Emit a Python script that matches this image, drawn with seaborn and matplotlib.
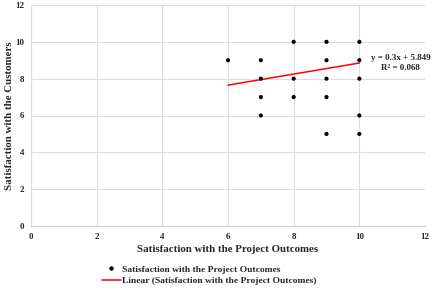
import numpy as np
import pandas as pd
import seaborn as sns
import matplotlib.pyplot as plt
from matplotlib.lines import Line2D

# survey answers (unique points visible in the chart)
outcomes = [6, 7, 7, 7, 7, 8, 8, 8, 9, 9, 9, 9, 9, 10, 10, 10, 10, 10]
customers = [9, 9, 8, 7, 6, 10, 8, 7, 10, 9, 8, 7, 5, 10, 9, 8, 6, 5]
slope = 0.3
intercept = 5.849
r_squared = 0.068
x_ticks = [0, 2, 4, 6, 8, 10, 12]
y_ticks = [0, 2, 4, 6, 8, 10, 12]

df = pd.DataFrame({"outcomes": outcomes, "customers": customers})

sns.set_theme(style="whitegrid")
plt.rcParams['font.family'] = ['Liberation Serif', 'DejaVu Serif']
plt.rcParams['font.weight'] = 'bold'

fig = plt.figure(figsize=(4.38, 2.90), dpi=100)
ax = fig.add_axes([31 / 438, 1 - 226 / 290, 394 / 438, 221 / 290])

sns.scatterplot(data=df, x="outcomes", y="customers", ax=ax, color="black",
                s=9, edgecolor="none", legend=False, zorder=3)

# linear trendline over the data range
xs = np.array([min(outcomes), max(outcomes)])
sns.lineplot(x=xs, y=slope * xs + intercept, ax=ax, color="#ff0000", linewidth=1.1, zorder=2)

ax.set_xlim(0, 12)
ax.set_ylim(0, 12)
ax.set_xticks(x_ticks)
ax.set_yticks(y_ticks)
ax.tick_params(axis='both', labelsize=6.5, length=0, pad=5)
for lbl in ax.get_xticklabels() + ax.get_yticklabels():
    lbl.set_fontweight('bold')
ax.grid(True, color="#dddddd", linewidth=0.8)
for side in ["top", "right"]:
    ax.spines[side].set_visible(False)
ax.spines["left"].set_color("#dddddd")
ax.spines["bottom"].set_color("#cccccc")
ax.spines["left"].set_linewidth(0.8)
ax.spines["bottom"].set_linewidth(0.8)

ax.set_xlabel("Satisfaction with the Project Outcomes", fontsize=7.8, fontweight='bold', labelpad=3)
ax.set_ylabel("Satisfaction with the Customers", fontsize=7.8, fontweight='bold', labelpad=1)

ax.text(11.25, 8.85, f"y = {slope}x + {intercept}\nR² = {r_squared:.3f}", fontsize=6.5,
        fontweight='bold', ha='center', va='center', multialignment='center')

handles = [
    Line2D([], [], marker='o', color='black', linestyle='none', markersize=2.2),
    Line2D([], [], color='#ff0000', linewidth=1.1),
]
labels = ["Satisfaction with the Project Outcomes",
          "Linear (Satisfaction with the Project Outcomes)"]
fig.legend(handles, labels, loc='upper center', bbox_to_anchor=(0.477, 0.115),
           frameon=False, ncol=1, handlelength=2.0, handletextpad=0.1,
           labelspacing=0.3, prop={'weight': 'bold', 'size': 6.8})

fig.savefig("out.png", dpi=100)
